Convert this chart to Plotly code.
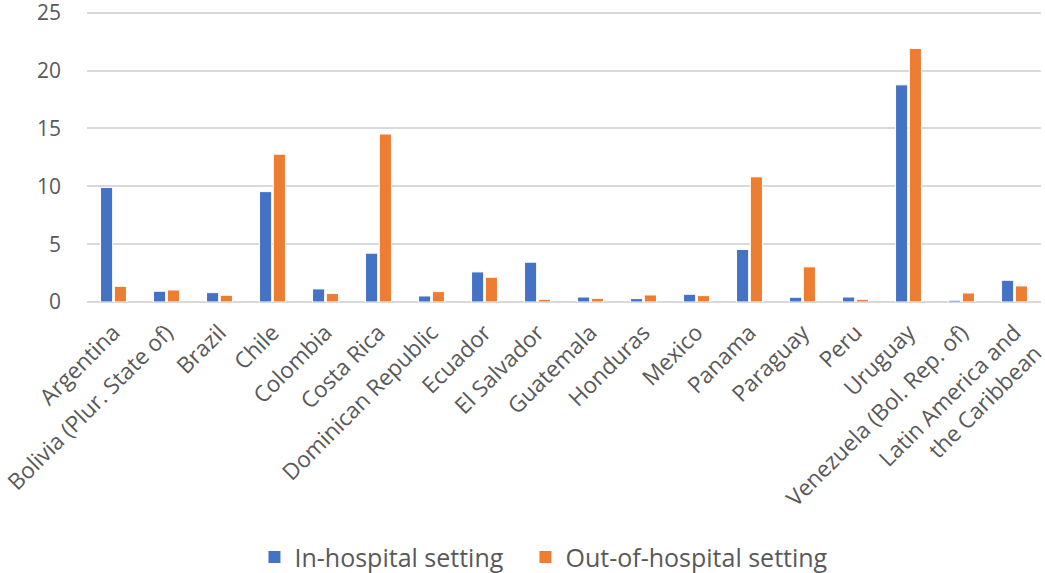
import plotly.graph_objects as go

categories = ["Argentina", "Bolivia (Plur. State of)", "Brazil", "Chile", "Colombia",
              "Costa Rica", "Dominican Republic", "Ecuador", "El Salvador", "Guatemala",
              "Honduras", "Mexico", "Panama", "Paraguay", "Peru", "Uruguay",
              "Venezuela (Bol. Rep. of)", "Latin America and<br>the Caribbean"]
in_hospital = [9.9, 0.93, 0.81, 9.54, 1.13, 4.22, 0.52, 2.6, 3.44, 0.43,
               0.29, 0.67, 4.54, 0.41, 0.43, 18.77, 0.15, 1.88]
out_hospital = [1.36, 1.04, 0.58, 12.78, 0.73, 14.52, 0.9, 2.14, 0.23, 0.32,
                0.61, 0.55, 10.82, 3.04, 0.23, 21.92, 0.78, 1.39]
y_ticks = [0, 5, 10, 15, 20, 25]
series_names = ["In-hospital setting", "Out-of-hospital setting"]
colors = ["#4472C4", "#ED7D31"]

FONT = "Open Sans"
GRAY = "#595959"
PAD = "\u00a0\u00a0\u2009"  # extra spacing between legend entries

fig = go.Figure()
for name, vals, col in zip(series_names, [in_hospital, out_hospital], colors):
    fig.add_trace(go.Bar(x=categories, y=vals, name=name, showlegend=False,
                         marker=dict(color=col, line=dict(color="white", width=1))))
# legend entries with larger square swatches
for i, (name, col) in enumerate(zip(series_names, colors)):
    label = name + (PAD if i == 0 else "")
    fig.add_trace(go.Scatter(x=[None], y=[None], mode="markers", name=label,
                             marker=dict(symbol="square", size=16, color=col)))

fig.update_layout(
    width=1045, height=573,
    margin=dict(l=87, r=4, t=7, b=271, autoexpand=False),
    plot_bgcolor="white", paper_bgcolor="white",
    barmode="group", bargap=0.48, bargroupgap=0.12,
    font=dict(family=FONT, color=GRAY, size=22),
    legend=dict(orientation="h", x=0.479, xanchor="center", y=-0.865, yanchor="middle",
                font=dict(size=25, color=GRAY), itemsizing="constant",
                traceorder="normal", itemwidth=30),
    showlegend=True,
)
fig.update_yaxes(range=[0, 25.5], tickvals=y_ticks, showgrid=True, gridcolor="#d9d9d9",
                 gridwidth=1.5, zeroline=True, zerolinecolor="#d9d9d9", zerolinewidth=1.5,
                 tickfont=dict(size=21, color=GRAY), ticks="", ticklabelstandoff=25,
                 showline=False, automargin=False, ticklabeloverflow="allow")
fig.update_xaxes(tickangle=-45, tickfont=dict(size=22.5, color=GRAY), showline=False,
                 ticks="", showgrid=False, automargin=False, ticklabelstandoff=12)

fig.write_html("out.html")
